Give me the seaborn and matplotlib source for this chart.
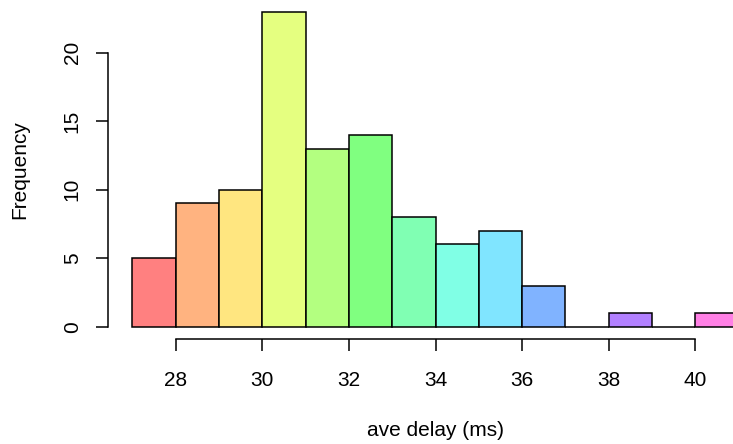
import colorsys
import numpy as np
import pandas as pd
import matplotlib
matplotlib.use("Agg")
import matplotlib.pyplot as plt
import seaborn as sns

# histogram bins (1 ms wide) and their counts
bin_edges = [27, 28, 29, 30, 31, 32, 33, 34, 35, 36, 37, 38, 39, 40, 41]
counts = [5, 9, 10, 23, 13, 14, 8, 6, 7, 3, 0, 1, 0, 1]
x_ticks = [28, 30, 32, 34, 36, 38, 40]
y_ticks = [0, 5, 10, 15, 20]

df = pd.DataFrame({
    "delay": [(a + b) / 2 for a, b in zip(bin_edges[:-1], bin_edges[1:])],
    "count": counts,
})

# R-style rainbow(15) with alpha 0.5 on white
def rainbow(n):
    cols = []
    for i in range(n):
        r, g, b = colorsys.hsv_to_rgb(i / n, 1, 1)
        cols.append((0.5 + r / 2, 0.5 + g / 2, 0.5 + b / 2))
    return cols

colors = rainbow(15)

sns.set_style("white")
plt.rcParams["font.family"] = ["Liberation Sans", "DejaVu Sans"]
plt.rcParams["text.color"] = "black"
plt.rcParams["axes.labelcolor"] = "black"
plt.rcParams["xtick.color"] = "black"
plt.rcParams["ytick.color"] = "black"

fig = plt.figure(figsize=(7.33, 4.44), dpi=100)
ax = fig.add_axes([0.1476, 0.2358, 0.8931, 0.7665])

sns.histplot(data=df, x="delay", weights="count", bins=bin_edges,
             ax=ax, edgecolor="black", linewidth=1.1, alpha=1.0)
for p, c in zip(ax.patches, colors):
    p.set_facecolor(c)

ax.set_xlim(26.44, 41.56)
ax.set_ylim(-0.92, 23.92)

for s in ["top", "right"]:
    ax.spines[s].set_visible(False)
ax.spines["left"].set_bounds(0, 20)
ax.spines["bottom"].set_bounds(28, 40)
for s in ["left", "bottom"]:
    ax.spines[s].set_linewidth(1.1)
    ax.spines[s].set_color("black")

ax.set_xticks(x_ticks)
ax.set_yticks(y_ticks)
ax.tick_params(axis="both", direction="out", length=8.6, width=1.1,
               color="black", labelcolor="black", labelsize=15,
               bottom=True, left=True)
ax.tick_params(axis="x", pad=14)
ax.tick_params(axis="y", pad=10.5)
for lab in ax.get_yticklabels():
    lab.set_rotation(90)
    lab.set_va("center")

ax.set_xlabel("ave delay (ms)", fontsize=15, va="center", color="black")
ax.xaxis.set_label_coords(0.5, -0.2666)
ax.set_ylabel("Frequency", fontsize=15, va="center", color="black")
ax.yaxis.set_label_coords(-0.1347, 0.5)

fig.savefig("out.png", dpi=100)
